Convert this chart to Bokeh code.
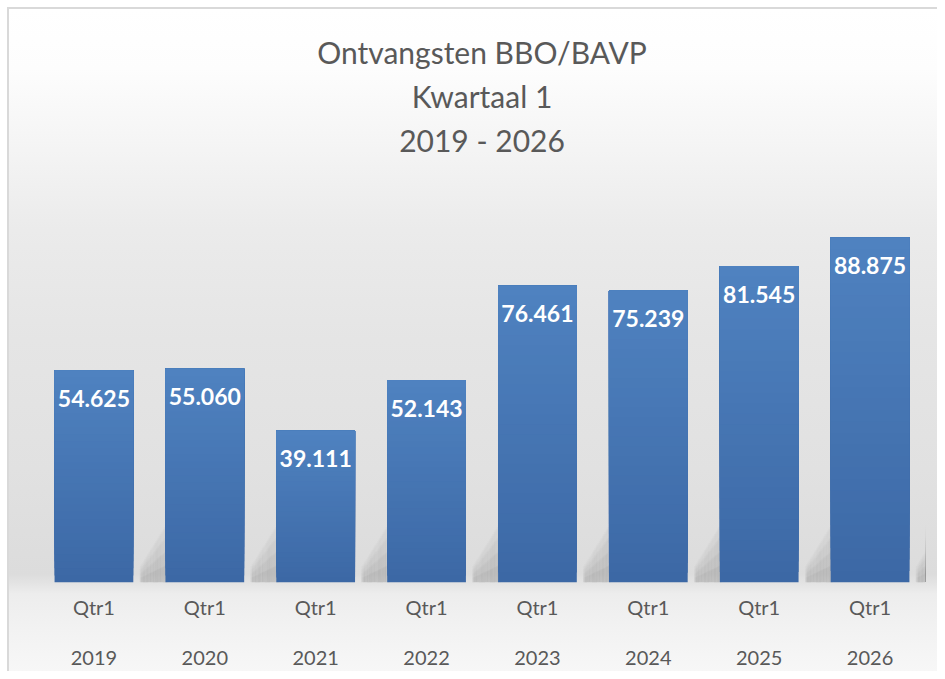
from bokeh.plotting import figure
from bokeh.models import FactorRange, Range1d, Title, ColumnDataSource, LabelSet, CategoricalAxis, CustomJSTickFormatter
from bokeh.core.properties import value
from bokeh.transform import dodge
from bokeh.embed import file_html
from bokeh.resources import INLINE
import numpy as np

years = ["2019", "2020", "2021", "2022", "2023", "2024", "2025", "2026"]
quarter = "Qtr1"
values = [54.625, 55.060, 39.111, 52.143, 76.461, 75.239, 81.545, 88.875]
value_labels = ["54.625", "55.060", "39.111", "52.143", "76.461", "75.239", "81.545", "88.875"]
title_lines = ["Ontvangsten BBO/BAVP", "Kwartaal 1", "2019 - 2026"]

W, H = 937, 671

p = figure(width=W, height=H, x_range=FactorRange(*years, range_padding=0, factor_padding=0),
           y_range=Range1d(0, 100), output_backend="svg", toolbar_location=None,
           x_axis_location=None, y_axis_location=None,
           min_border_left=38, min_border_right=12, min_border_bottom=89, min_border_top=194)
p.background_fill_alpha = 0
p.border_fill_alpha = 0
p.outline_line_color = None
p.grid.visible = False

# chart-area background: border line and soft vertical gradient
grad = ("linear-gradient(to bottom, #ffffff 0px, #fdfdfd 60px, #f3f3f3 150px, #ebebeb 220px, "
        "#e5e5e5 330px, #e1e1e1 460px, #dcdcdc 565px, #e4e4e4 575px, #ededed 585px, "
        "#f2f2f2 620px, #f8f8f8 671px)")
p.styles = {
    "background": ("linear-gradient(#d9d9d9,#d9d9d9) 7px 7px / 2px 100% no-repeat, "
                   "linear-gradient(#d9d9d9,#d9d9d9) 7px 7px / 100% 2px no-repeat, "
                   + grad + " 9px 9px / 100% 100% no-repeat, #ffffff"),
}

vals = np.array(values)
src = ColumnDataSource(dict(x=years, top=vals))

# soft shadows cast behind the bars (to the right, rising)
K = 24
step = 0.24 / K
for k in range(K):
    frac = (k + 0.5) / K
    off = 0.42 + 0.24 * frac
    h = 4.0 + 11.0 * frac
    for s in [0.3, 0.55, 0.8, 1.0]:
        p.vbar(x=dodge("x", off, range=p.x_range), bottom=0, top=h * s, width=step * 2.6,
               source=src, fill_color="#6f6f6f", fill_alpha=0.026, line_color=None)

# bars with vertical gradient (layered, no seams)
N = 30
top_c = np.array([79, 130, 192])
bot_c = np.array([60, 104, 165])
for i in range(N):
    f0 = i / N
    c = bot_c + (top_c - bot_c) * (f0 + 0.5 / N)
    p.vbar(x=years, bottom=vals * f0, top=vals, width=0.71,
           fill_color="#%02x%02x%02x" % tuple(int(round(v)) for v in c), line_color=None)

lsrc = ColumnDataSource(dict(x=years, y=values, t=value_labels))
p.add_layout(LabelSet(x="x", y="y", text="t", source=lsrc, y_offset=-28, text_align="center",
                      text_baseline="middle", text_color="white", text_font=value("Lato"),
                      text_font_style="bold", text_font_size="23px"))

def style_axis(ax, standoff):
    ax.axis_line_color = None
    ax.major_tick_line_color = None
    ax.minor_tick_line_color = None
    ax.major_label_text_font = "Lato"
    ax.major_label_text_font_size = "20px"
    ax.major_label_text_color = "#595959"
    ax.major_label_standoff = standoff

ax_q = CategoricalAxis(formatter=CustomJSTickFormatter(args=dict(q=quarter), code="return q;"))
style_axis(ax_q, 6)
p.add_layout(ax_q, "below")
ax_y = CategoricalAxis()
style_axis(ax_y, 23)
p.add_layout(ax_y, "below")

# spacer between the title block and the plot area
p.add_layout(Title(text=" ", text_font="Lato", text_font_size="26px", standoff=0), "above")
for line in reversed(title_lines):
    p.add_layout(Title(text=line, align="center", text_font="Lato", text_font_size="30px",
                       text_font_style="normal", text_color="#595959", standoff=6), "above")

open("out.html", "w").write(file_html(p, INLINE))
